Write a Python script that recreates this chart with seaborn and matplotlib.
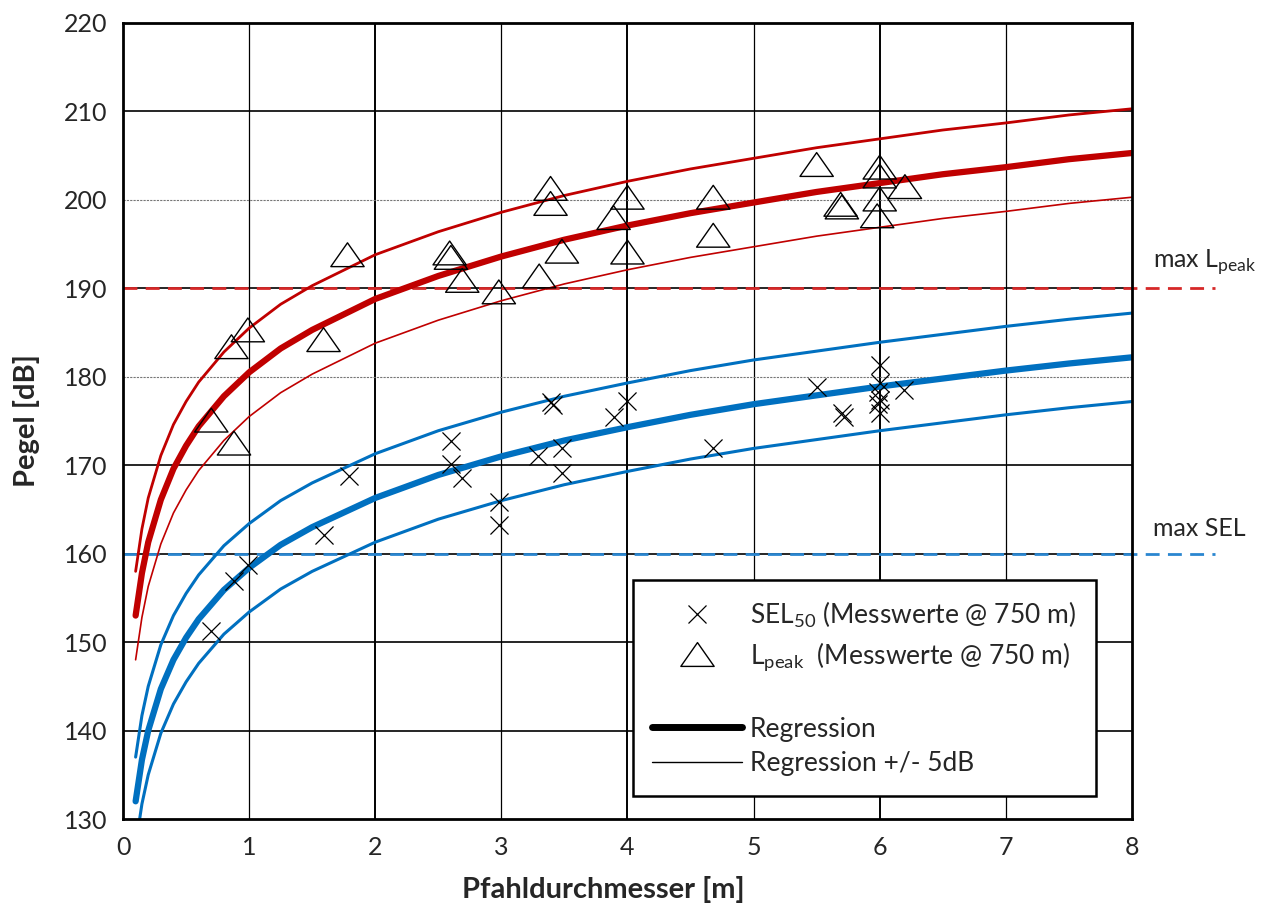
import numpy as np
import seaborn as sns
import matplotlib.pyplot as plt
from matplotlib.lines import Line2D
from matplotlib.markers import MarkerStyle
from matplotlib.path import Path

sns.set_theme(style="white")
plt.rcParams["font.family"] = ["Lato", "DejaVu Sans"]
plt.rcParams["axes.unicode_minus"] = False

sel_x = [0.7, 0.88, 0.99, 1.59, 1.79, 2.6, 2.6, 2.69, 2.98, 2.98, 3.29, 3.39, 3.41, 3.48,
         3.48, 3.89, 4.0, 4.68, 5.5, 5.7, 5.72, 6.0, 6.0, 5.99, 6.0, 5.99, 6.0, 6.19]
sel_y = [151.3, 156.9, 158.7, 162.1, 168.8, 172.7, 170.1, 168.5, 165.8, 163.2, 171.0, 177.2,
         176.8, 171.9, 169.1, 175.5, 177.3, 172.0, 178.9, 175.9, 175.4, 181.3, 179.3, 178.3,
         177.4, 176.9, 175.9, 178.5]

peak_x = [0.7, 0.88, 0.86, 0.99, 1.59, 1.78, 2.59, 2.6, 2.69, 2.98, 3.3, 3.39, 3.39, 3.48,
          3.89, 4.0, 4.0, 4.68, 4.68, 5.5, 5.69, 5.7, 6.0, 6.0, 6.0, 5.98, 6.2]
peak_y = [175.1, 172.5, 183.4, 185.3, 184.2, 193.8, 194.0, 193.5, 190.9, 189.6, 191.4, 201.3,
          199.6, 194.2, 198.0, 200.3, 194.1, 200.3, 196.0, 204.0, 199.5, 199.2, 203.7, 202.7,
          200.1, 198.2, 201.5]

# Regression curves
reg_x = [0.1, 0.15, 0.2, 0.3, 0.4, 0.5, 0.6, 0.8, 1.0, 1.25, 1.5, 2, 2.5, 3, 3.5, 4,
         4.5, 5, 5.5, 6, 6.5, 7, 7.5, 8]
peak_reg = [153.0, 157.8, 161.3, 166.1, 169.6, 172.2, 174.4, 177.8, 180.5, 183.2, 185.3, 188.8,
            191.4, 193.6, 195.5, 197.1, 198.5, 199.7, 200.9, 201.9, 202.9, 203.7, 204.6, 205.3]
peak_hi = [158.0, 162.8, 166.3, 171.1, 174.6, 177.2, 179.4, 182.8, 185.5, 188.2, 190.3, 193.8,
           196.4, 198.6, 200.5, 202.1, 203.5, 204.7, 205.9, 206.9, 207.9, 208.7, 209.6, 210.3]
peak_lo = [148.0, 152.8, 156.3, 161.1, 164.6, 167.2, 169.4, 172.8, 175.5, 178.2, 180.3, 183.8,
           186.4, 188.6, 190.5, 192.1, 193.5, 194.7, 195.9, 196.9, 197.9, 198.7, 199.6, 200.3]
sel_reg = [132.0, 136.7, 140.0, 144.7, 148.0, 150.5, 152.6, 155.9, 158.4, 161.0, 163.0, 166.3,
           168.9, 171.0, 172.8, 174.3, 175.7, 176.9, 177.9, 178.9, 179.8, 180.7, 181.5, 182.2]
sel_hi = [137.0, 141.7, 145.0, 149.7, 153.0, 155.5, 157.6, 160.9, 163.4, 166.0, 168.0, 171.3,
          173.9, 176.0, 177.8, 179.3, 180.7, 181.9, 182.9, 183.9, 184.8, 185.7, 186.5, 187.2]
sel_lo = [127.0, 131.7, 135.0, 139.7, 143.0, 145.5, 147.6, 150.9, 153.4, 156.0, 158.0, 161.3,
          163.9, 166.0, 167.8, 169.3, 170.7, 171.9, 172.9, 173.9, 174.8, 175.7, 176.5, 177.2]

max_peak = 190
max_sel = 160

RED = "#C00000"
BLUE = "#0070C0"

fig = plt.figure(figsize=(12.76, 9.09), dpi=100)
ax = fig.add_axes([0.0964, 0.099, 0.7907, 0.8757])

# grid
for xv in range(1, 8):
    ax.axvline(xv, color="black", lw=1.4 if xv % 2 == 0 else 0.9, zorder=0)
for yv in range(140, 220, 10):
    if yv in (200, 180):
        ax.axhline(yv, color="#777777", lw=0.8, ls=(0, (2, 1)), zorder=0)
    else:
        ax.axhline(yv, color="black", lw=1.2, zorder=0)

# limit lines (run past the right edge)
ax.plot([0, 8.66], [max_peak, max_peak], color="#D62828", lw=2, ls=(0, (5, 3)),
        clip_on=False, zorder=1)
ax.plot([0, 8.66], [max_sel, max_sel], color="#2A86D0", lw=2, ls=(0, (5, 3)),
        clip_on=False, zorder=1)

# regression curves
sns.lineplot(x=reg_x, y=peak_hi, ax=ax, color=RED, lw=2.0, sort=False)
sns.lineplot(x=reg_x, y=peak_lo, ax=ax, color=RED, lw=1.2, sort=False)
sns.lineplot(x=reg_x, y=peak_reg, ax=ax, color=RED, lw=4.5, sort=False)
sns.lineplot(x=reg_x, y=sel_hi, ax=ax, color=BLUE, lw=2.2, sort=False)
sns.lineplot(x=reg_x, y=sel_lo, ax=ax, color=BLUE, lw=2.2, sort=False)
sns.lineplot(x=reg_x, y=sel_reg, ax=ax, color=BLUE, lw=4.5, sort=False)

# wide triangle marker
tri = MarkerStyle(Path([(-1.4, -1.0), (1.4, -1.0), (0.0, 1.0), (-1.4, -1.0)], closed=True))

sns.scatterplot(x=sel_x, y=sel_y, ax=ax, marker="x", s=13 ** 2, color="black",
                linewidth=0.9, zorder=3)
sns.scatterplot(x=peak_x, y=peak_y, ax=ax, marker=tri, s=24 ** 2, color="black",
                facecolor="none", edgecolor="black", linewidth=1.0, zorder=3)

ax.set_xlim(0, 8)
ax.set_ylim(130, 220)
ax.set_xticks(range(0, 9))
ax.set_yticks(range(130, 221, 10))
ax.tick_params(axis="x", labelsize=18, pad=12, length=0)
ax.tick_params(axis="y", labelsize=18, pad=11, length=0)
for sp in ax.spines.values():
    sp.set_color("black")
    sp.set_linewidth(2)

ax.set_xlabel("Pfahldurchmesser [m]", fontsize=21, fontweight="bold", labelpad=12)
ax.set_ylabel("Pegel [dB]", fontsize=21, fontweight="bold", labelpad=17)
ax.xaxis.set_label_coords(0.476, -0.072)

# labels for the limit lines
ax.text(8.17, 193.0, r"max L$_\mathregular{peak}$", fontsize=18, va="center", ha="left",
        clip_on=False)
ax.text(8.17, 162.8, "max SEL", fontsize=18, va="center", ha="left", clip_on=False)

# legend
handles = [
    Line2D([], [], ls="none", marker="x", color="black", markersize=13, markeredgewidth=0.9),
    Line2D([], [], ls="none", marker=tri, markerfacecolor="none", markeredgecolor="black",
           markersize=24, markeredgewidth=1.0),
    Line2D([], [], ls="none"),
    Line2D([], [], color="black", lw=5),
    Line2D([], [], color="black", lw=1),
]
labels = [
    r"SEL$_\mathregular{50}$ (Messwerte @ 750 m)",
    r"L$_\mathregular{peak}$  (Messwerte @ 750 m)",
    "",
    "Regression",
    "Regression +/- 5dB",
]
leg = ax.legend(handles, labels, loc="lower right", bbox_to_anchor=(0.964, 0.029),
                fontsize=19, handlelength=3.4, handletextpad=0.3, labelspacing=0.36,
                frameon=True, fancybox=False, borderpad=0.75, borderaxespad=0)
leg.get_frame().set_edgecolor("black")
leg.get_frame().set_linewidth(1.8)
leg.get_frame().set_facecolor("white")
leg.get_frame().set_alpha(1)

fig.savefig("out.png", dpi=100)
